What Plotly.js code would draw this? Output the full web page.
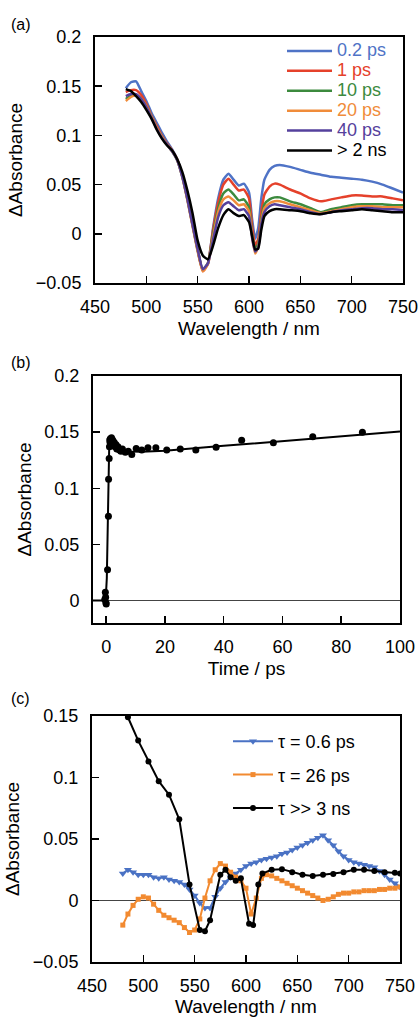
<!DOCTYPE html>
<html>
<head>
<meta charset="utf-8">
<script src="https://cdn.plot.ly/plotly-3.0.1.min.js"></script>
<style>html,body{margin:0;padding:0;background:#fff;}#chart{width:420px;height:1017px;}</style>
</head>
<body>
<div id="chart"></div>
<script>
// ---------- Panel (a): transient spectra ----------
const wlA = [480,485,490,495,500,505,510,515,520,525,530,535,540,545,550,555,560,565,570,575,580,585,590,595,600,603,606,609,612,615,620,625,630,640,650,660,670,680,690,700,710,720,730,740,750];
const a_0p2ps = [0.148,0.154,0.155,0.145,0.135,0.123,0.113,0.103,0.094,0.086,0.076,0.060,0.037,0.012,-0.016,-0.036,-0.030,0.006,0.036,0.055,0.061,0.055,0.049,0.051,0.042,0.015,-0.005,0.006,0.036,0.055,0.065,0.069,0.070,0.068,0.065,0.062,0.060,0.058,0.057,0.056,0.055,0.053,0.050,0.046,0.042];
const a_1ps   = [0.144,0.146,0.146,0.141,0.132,0.120,0.110,0.100,0.092,0.085,0.076,0.059,0.036,0.010,-0.016,-0.038,-0.030,0.004,0.032,0.050,0.056,0.050,0.044,0.045,0.036,0.008,-0.012,-0.005,0.022,0.040,0.048,0.051,0.050,0.045,0.041,0.036,0.033,0.035,0.037,0.039,0.039,0.038,0.038,0.036,0.034];
const a_10ps  = [0.137,0.140,0.141,0.137,0.130,0.119,0.108,0.099,0.091,0.084,0.075,0.058,0.035,0.009,-0.017,-0.037,-0.030,0.000,0.026,0.041,0.045,0.040,0.034,0.035,0.027,0.000,-0.016,-0.010,0.015,0.030,0.035,0.037,0.037,0.033,0.030,0.026,0.022,0.025,0.027,0.029,0.030,0.030,0.030,0.029,0.029];
const a_20ps  = [0.135,0.139,0.141,0.137,0.130,0.119,0.108,0.099,0.091,0.084,0.075,0.058,0.034,0.008,-0.018,-0.038,-0.031,-0.003,0.022,0.035,0.038,0.034,0.029,0.030,0.023,-0.003,-0.020,-0.013,0.012,0.026,0.031,0.033,0.033,0.030,0.027,0.024,0.021,0.023,0.025,0.027,0.028,0.028,0.027,0.027,0.027];
const a_40ps  = [0.140,0.142,0.142,0.137,0.129,0.118,0.107,0.098,0.091,0.084,0.075,0.058,0.035,0.009,-0.016,-0.036,-0.030,-0.006,0.017,0.029,0.032,0.028,0.024,0.025,0.018,-0.004,-0.018,-0.014,0.010,0.022,0.028,0.030,0.029,0.027,0.025,0.022,0.020,0.022,0.024,0.025,0.026,0.026,0.025,0.025,0.024];
const a_2ns   = [0.147,0.145,0.140,0.134,0.126,0.117,0.106,0.097,0.090,0.085,0.076,0.063,0.044,0.021,-0.007,-0.022,-0.026,-0.012,0.006,0.019,0.025,0.021,0.018,0.019,0.012,-0.002,-0.016,-0.015,0.004,0.018,0.023,0.025,0.025,0.024,0.023,0.021,0.020,0.022,0.023,0.024,0.025,0.024,0.023,0.022,0.022];
const namesA = ["0.2 ps","1 ps","10 ps","20 ps","40 ps","&gt; 2 ns"];
const colorsA = ["#4f73c6","#e5412b","#3c8a3e","#f08c3a","#55409c","#000000"];

// ---------- Panel (b): kinetic trace ----------
const bTime = [-0.5,-0.3,-0.2,-0.1,0.0,0.45,0.75,0.8,1.0,1.1,1.2,1.3,1.4,1.5,1.6,1.8,2.0,2.2,2.4,2.7,3.0,3.3,3.6,4.0,4.5,5.0,5.5,6.5,7.5,8.7,10.2,12.1,14.2,16.9,20.6,25.2,30.5,37.4,46.1,56.9,70.3,87.2];
const bAbs  = [0.001,0.0074,0.003,-0.002,-0.003,0.0275,0.075,0.108,0.1266,0.137,0.143,0.141,0.144,0.139,0.142,0.145,0.140,0.143,0.138,0.141,0.137,0.139,0.135,0.137,0.134,0.133,0.135,0.132,0.133,0.130,0.1355,0.134,0.136,0.136,0.134,0.135,0.134,0.1366,0.1428,0.1405,0.1458,0.150];
const fitTime = [-4.5,-0.2,0.2,0.5,0.8,1.0,1.3,2,3,4,6,8,12,20,40,60,80,100];
const fitAbs  = [0,0,0.02,0.07,0.115,0.135,0.142,0.1415,0.1395,0.137,0.134,0.1328,0.1325,0.1335,0.1378,0.142,0.1463,0.1505];

// ---------- Panel (c): decay-associated spectra ----------
const wlC = [480,485,490,495,500,505,510,515,520,525,530,535,540,545,550,555,560,565,570,575,580,585,590,595,600,605,610,615,620,625,630,635,640,645,650,655,660,665,670,675,680,685,690,695,700,705,710,715,720,725,730,735,740,745,750];
const c_0p6ps = [0.022,0.025,0.023,0.021,0.021,0.021,0.019,0.018,0.019,0.017,0.016,0.015,0.013,0.009,0.004,-0.002,-0.006,-0.006,0.003,0.010,0.015,0.019,0.022,0.025,0.028,0.030,0.031,0.033,0.034,0.035,0.036,0.038,0.039,0.041,0.043,0.045,0.047,0.049,0.051,0.053,0.049,0.045,0.040,0.036,0.033,0.031,0.030,0.029,0.028,0.027,0.024,0.021,0.017,0.014,0.011];
const c_26ps  = [-0.020,-0.011,-0.004,0.001,0.003,0.002,-0.003,-0.008,-0.012,-0.014,-0.016,-0.018,-0.022,-0.026,-0.024,-0.015,0.002,0.016,0.025,0.030,0.028,0.023,0.019,0.016,0.010,-0.011,0.002,0.018,0.021,0.020,0.018,0.016,0.014,0.012,0.010,0.008,0.006,0.004,0.002,0.000,0.001,0.003,0.005,0.006,0.006,0.007,0.007,0.008,0.008,0.008,0.009,0.009,0.010,0.010,0.011];
const wlC3 = [480,485,495,505,515,525,535,545,555,560,565,575,580,585,590,595,603,607,612,616,625,635,645,655,665,675,685,695,705,715,725,735,745,750];
const c_3ns = [0.157,0.149,0.130,0.113,0.097,0.086,0.066,0.013,-0.024,-0.025,-0.016,0.021,0.025,0.019,0.016,0.018,-0.019,-0.020,0.013,0.022,0.025,0.0255,0.023,0.021,0.020,0.021,0.0215,0.023,0.025,0.025,0.024,0.023,0.0225,0.022];
const namesC = ["\u03c4 = 0.6 ps","\u03c4 = 26 ps","\u03c4 &gt;&gt; 3 ns"];
const colorsC = ["#4a72c4","#f28a30","#000000"];

const W = 420, H = 1017;
const FONT = "Liberation Sans, Arial, Helvetica, sans-serif";
const px = v => v / W, py = v => 1 - v / H;

const traces = [];
const seriesA = [a_0p2ps, a_1ps, a_10ps, a_20ps, a_40ps, a_2ns];
seriesA.forEach((ys, i) => {
  traces.push({
    x: wlA, y: ys, xaxis: 'x', yaxis: 'y', type: 'scatter', mode: 'lines',
    line: {color: colorsA[i], width: 2.5, shape: 'spline', smoothing: 0.5},
    name: '<span style="font-size:18px;fill:' + colorsA[i] + '">' + namesA[i] + '</span>',
    legend: 'legend'
  });
});
traces.push({x: fitTime, y: fitAbs, xaxis: 'x2', yaxis: 'y2', type: 'scatter', mode: 'lines',
  line: {color: '#000', width: 2}, showlegend: false});
traces.push({x: bTime, y: bAbs, xaxis: 'x2', yaxis: 'y2', type: 'scatter', mode: 'markers',
  marker: {color: '#000', size: 7}, showlegend: false});
const seriesC = [[wlC, c_0p6ps, 'triangle-down', 7], [wlC, c_26ps, 'square', 5], [wlC3, c_3ns, 'circle', 6]];
seriesC.forEach((s, i) => {
  traces.push({x: s[0], y: s[1], xaxis: 'x3', yaxis: 'y3', type: 'scatter', mode: 'lines+markers',
    line: {color: colorsC[i], width: 2}, marker: {color: colorsC[i], symbol: s[2], size: s[3]},
    name: namesC[i], legend: 'legend2', legendgroup: 'g' + i});
});

function xax(dom, range, dtick, title, anchor) {
  return {domain: dom, range: range, dtick: dtick, tick0: 0, anchor: anchor,
    showline: true, mirror: true, linewidth: 2, linecolor: '#000',
    ticks: 'inside', ticklen: 7, tickwidth: 1.5, tickcolor: '#000',
    showgrid: false, zeroline: false, ticklabelstandoff: 6,
    tickfont: {family: FONT, size: 18, color: '#000'},
    title: {text: title, font: {family: FONT, size: 19, color: '#000'}, standoff: 6}};
}
function yax(dom, range, dtick, anchor, zl) {
  return {domain: dom, range: range, dtick: dtick, tick0: 0, anchor: anchor,
    showline: true, mirror: true, linewidth: 2, linecolor: '#000',
    ticks: 'inside', ticklen: 7, tickwidth: 1.5, tickcolor: '#000',
    showgrid: false, zeroline: zl, zerolinecolor: '#444', zerolinewidth: 1,
    ticklabelstandoff: 8,
    tickfont: {family: FONT, size: 18, color: '#000'},
    title: {text: '\u0394Absorbance', font: {family: FONT, size: 19, color: '#000'}, standoff: 8}};
}

const layout = {
  width: W, height: H, margin: {l: 0, r: 0, t: 0, b: 0},
  paper_bgcolor: '#fff', plot_bgcolor: '#fff',
  font: {family: FONT, color: '#000'},
  xaxis: xax([px(95), px(403)], [450, 750], 50, 'Wavelength / nm', 'y'),
  yaxis: yax([py(283), py(37)], [-0.05, 0.2], 0.05, 'x', false),
  xaxis2: xax([px(93), px(400)], [-4.5, 100], 20, 'Time / ps', 'y2'),
  yaxis2: yax([py(623), py(376)], [-0.02, 0.2], 0.05, 'x2', true),
  xaxis3: xax([px(92), px(400)], [450, 750], 50, 'Wavelength / nm', 'y3'),
  yaxis3: yax([py(962), py(716)], [-0.05, 0.15], 0.05, 'x3', true),
  legend: {x: px(282), y: py(36), xanchor: 'left', yanchor: 'top', bgcolor: 'rgba(0,0,0,0)',
    font: {family: FONT, size: 13, color: '#000'}, itemwidth: 45, borderwidth: 0},
  legend2: {x: px(228), y: py(723), xanchor: 'left', yanchor: 'top', bgcolor: 'rgba(0,0,0,0)',
    font: {family: FONT, size: 18, color: '#000'}, itemwidth: 40, borderwidth: 0,
    traceorder: 'grouped', tracegroupgap: 7},
  annotations: [
    {text: '(a)', x: px(9), y: py(24), xref: 'paper', yref: 'paper', xanchor: 'left', yanchor: 'middle', showarrow: false, font: {family: FONT, size: 16}},
    {text: '(b)', x: px(9), y: py(362), xref: 'paper', yref: 'paper', xanchor: 'left', yanchor: 'middle', showarrow: false, font: {family: FONT, size: 16}},
    {text: '(c)', x: px(9), y: py(698), xref: 'paper', yref: 'paper', xanchor: 'left', yanchor: 'middle', showarrow: false, font: {family: FONT, size: 16}}
  ]
};

Plotly.newPlot('chart', traces, layout, {staticPlot: true, displayModeBar: false});
</script>
</body>
</html>
